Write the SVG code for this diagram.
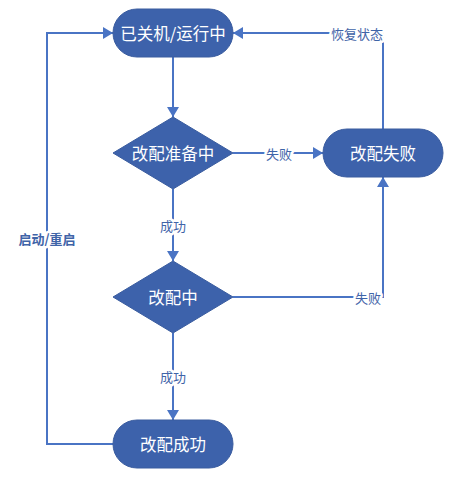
<svg xmlns="http://www.w3.org/2000/svg" width="456" height="483" viewBox="0 0 456 483">
<style>
.node{fill:#3D62AB;stroke:#3A5C9F;stroke-width:1}
.nt{fill:#ffffff;font-family:"Noto Sans CJK SC","Noto Sans",sans-serif;font-size:16.5px;text-anchor:middle;dominant-baseline:central}
.ln{fill:none;stroke:#4A74C4;stroke-width:2}
.lb{fill:#3F64A8;font-family:"Noto Sans CJK SC","Noto Sans",sans-serif;font-size:13px;text-anchor:middle;dominant-baseline:central;stroke:#ffffff;stroke-width:5;paint-order:stroke;stroke-linejoin:round}
</style>
<defs>
<marker id="ah" markerUnits="userSpaceOnUse" markerWidth="12" markerHeight="12" refX="10" refY="6" orient="auto">
<path d="M0,0 L10,6 L0,12 z" fill="#4A74C4"/>
</marker>
</defs>
<rect width="456" height="483" fill="#ffffff"/>
<g id="connectors">
<path class="ln" d="M173,57 V117" marker-end="url(#ah)"/>
<path class="ln" d="M233,153 H323" marker-end="url(#ah)"/>
<path class="ln" d="M383,129 V33 H233" marker-end="url(#ah)"/>
<path class="ln" d="M173,189 V261" marker-end="url(#ah)"/>
<path class="ln" d="M233,297 H383 V177" marker-end="url(#ah)"/>
<path class="ln" d="M173,333 V420" marker-end="url(#ah)"/>
<path class="ln" d="M113,444 H47 V33 H113" marker-end="url(#ah)"/>
<text class="lb" x="279" y="153">失败</text>
<text class="lb" x="357" y="33">恢复状态</text>
<text class="lb" x="173" y="225">成功</text>
<text class="lb" x="368" y="297">失败</text>
<text class="lb" x="173" y="376">成功</text>
<text class="lb" x="47" y="238" font-weight="bold">启动/重启</text>
</g>
<g id="n-running">
<rect class="node" x="113" y="9" width="120" height="48" rx="24"/>
<text class="nt" x="173" y="33">已关机/运行中</text>
</g>
<g id="n-prepare">
<path class="node" d="M113,153 L173,117 L233,153 L173,189 z"/>
<text class="nt" x="173" y="153">改配准备中</text>
</g>
<g id="n-fail">
<rect class="node" x="323" y="129" width="120" height="48" rx="24"/>
<text class="nt" x="383" y="153">改配失败</text>
</g>
<g id="n-changing">
<path class="node" d="M113,297 L173,261 L233,297 L173,333 z"/>
<text class="nt" x="173" y="297">改配中</text>
</g>
<g id="n-success">
<rect class="node" x="113" y="420" width="120" height="48" rx="24"/>
<text class="nt" x="173" y="444">改配成功</text>
</g>
</svg>
